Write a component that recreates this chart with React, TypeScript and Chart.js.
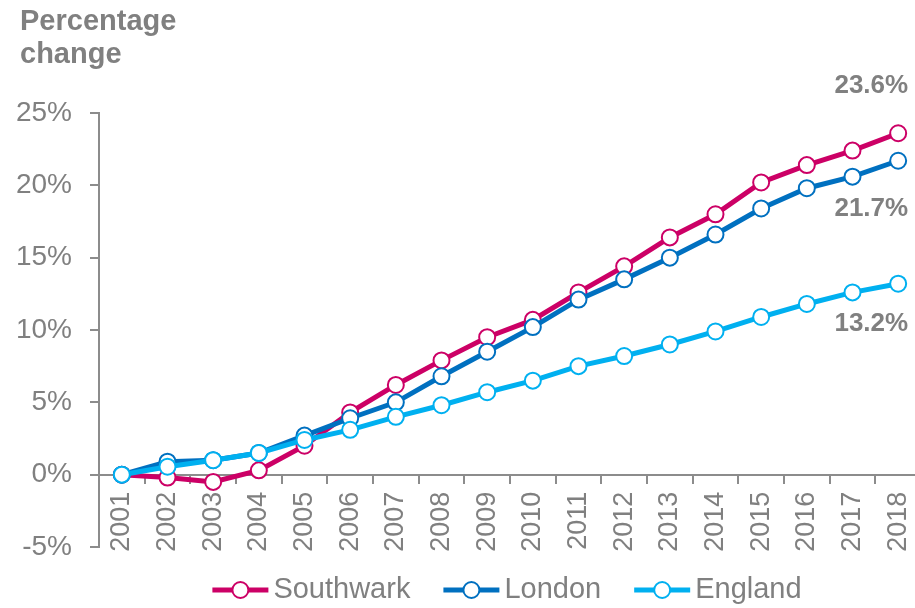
import React, { useEffect, useRef } from 'react';
import { Chart, registerables } from 'chart.js';

Chart.register(...registerables);

const years = ['2001', '2002', '2003', '2004', '2005', '2006', '2007', '2008', '2009', '2010', '2011', '2012', '2013', '2014', '2015', '2016', '2017', '2018'];
const southwark = [0, -0.2, -0.5, 0.3, 2.0, 4.3, 6.2, 7.9, 9.5, 10.7, 12.6, 14.4, 16.4, 18.0, 20.2, 21.4, 22.4, 23.6];
const london = [0, 0.9, 1.0, 1.5, 2.7, 3.9, 5.0, 6.8, 8.5, 10.2, 12.1, 13.5, 15.0, 16.6, 18.4, 19.8, 20.6, 21.7];
const england = [0, 0.55, 1.0, 1.5, 2.4, 3.1, 4.0, 4.8, 5.7, 6.5, 7.5, 8.2, 9.0, 9.9, 10.9, 11.8, 12.6, 13.2];
const seriesNames = ['Southwark', 'London', 'England'];
const seriesColors = ['#CC0066', '#0070C0', '#00B0F0'];
const titleLines = ['Percentage', 'change'];
const yMin = -5;
const yMax = 25;
const yStep = 5;

const FONT = '"Liberation Sans", Arial, Helvetica, sans-serif';
const GREY = '#808080';
const AXIS = '#8c8c8c';

const overlayPlugin = {
  id: 'overlay',
  afterDraw(chart: any) {
    const ctx = chart.ctx;
    const ca = chart.chartArea;
    ctx.save();
    // Title
    ctx.fillStyle = GREY;
    ctx.font = `bold 29px ${FONT}`;
    ctx.textAlign = 'left';
    ctx.textBaseline = 'alphabetic';
    titleLines.forEach((t, i) => ctx.fillText(t, 20, 30 + i * 33));

    // End labels
    const offsets = [-47, 48, 40];
    ctx.font = `bold 26px ${FONT}`;
    ctx.textAlign = 'right';
    ctx.textBaseline = 'middle';
    const all = [southwark, london, england];
    all.forEach((arr, i) => {
      const meta = chart.getDatasetMeta(i);
      const pt = meta.data[arr.length - 1];
      if (!pt) return;
      ctx.fillText(`${arr[arr.length - 1].toFixed(1)}%`, pt.x + 10, pt.y + offsets[i]);
    });

    // Legend
    ctx.font = `29px ${FONT}`;
    const widths = seriesNames.map((n) => ctx.measureText(n).width);
    const markerW = 56;
    const gapText = 5;
    const gapItem = 33;
    const total = widths.reduce((a, w) => a + markerW + gapText + w, 0) + gapItem * (seriesNames.length - 1);
    let x = (ca.left + ca.right) / 2 - 3 - total / 2;
    const y = chart.height - 18;
    seriesNames.forEach((name, i) => {
      ctx.strokeStyle = seriesColors[i];
      ctx.lineWidth = 5;
      ctx.lineCap = 'butt';
      ctx.beginPath();
      ctx.moveTo(x, y);
      ctx.lineTo(x + markerW, y);
      ctx.stroke();
      ctx.beginPath();
      ctx.arc(x + markerW / 2, y, 8, 0, Math.PI * 2);
      ctx.fillStyle = '#ffffff';
      ctx.fill();
      ctx.lineWidth = 2;
      ctx.stroke();
      ctx.fillStyle = GREY;
      ctx.textAlign = 'left';
      ctx.textBaseline = 'middle';
      ctx.fillText(name, x + markerW + gapText, y);
      x += markerW + gapText + widths[i] + gapItem;
    });
    ctx.restore();
  },
};

export default function App() {
  const ref = useRef<HTMLCanvasElement | null>(null);

  useEffect(() => {
    if (!ref.current) return;
    const mk = (i: number, data: number[], order: number) => ({
      label: seriesNames[i],
      data,
      borderColor: seriesColors[i],
      backgroundColor: seriesColors[i],
      borderWidth: 5,
      pointRadius: 8,
      pointBorderWidth: 2,
      pointBackgroundColor: '#ffffff',
      pointBorderColor: seriesColors[i],
      tension: 0,
      order,
      clip: false as any,
    });
    const chart = new Chart(ref.current, {
      type: 'line',
      data: {
        labels: years,
        datasets: [mk(0, southwark, 3), mk(1, london, 2), mk(2, england, 1)],
      },
      options: {
        responsive: false,
        maintainAspectRatio: false,
        animation: false,
        events: [],
        layout: { padding: { top: 113, bottom: 61, left: 0, right: 5 } },
        plugins: {
          legend: { display: false },
          tooltip: { enabled: false },
          title: { display: false },
        },
        scales: {
          x: {
            type: 'category',
            position: { y: 0 } as any,
            offset: true,
            afterFit: (s: any) => {
              s.paddingLeft = 0;
              s.paddingRight = 0;
            },
            grid: {
              offset: true,
              drawOnChartArea: false,
              drawTicks: true,
              tickLength: 8,
              color: AXIS,
              lineWidth: 2,
            },
            border: { display: true, color: AXIS, width: 2 },
            ticks: {
              color: GREY,
              font: { family: FONT, size: 27 },
              maxRotation: 90,
              minRotation: 90,
              autoSkip: false,
              padding: 9,
            },
          },
          y: {
            type: 'linear',
            position: 'left',
            min: yMin,
            max: yMax,
            afterFit: (s: any) => {
              s.width = 99;
            },
            grid: {
              drawOnChartArea: false,
              drawTicks: true,
              tickLength: 9,
              color: AXIS,
              lineWidth: 2,
            },
            border: { display: true, color: AXIS, width: 2 },
            ticks: {
              stepSize: yStep,
              color: GREY,
              font: { family: FONT, size: 28 },
              padding: 18,
              callback: (v: any) => `${v}%`,
            },
          },
        },
      },
      plugins: [overlayPlugin],
    });
    return () => chart.destroy();
  }, []);

  return (
    <div
      style={{
        position: 'fixed',
        left: 0,
        top: 0,
        width: 915,
        height: 608,
        overflow: 'hidden',
        background: '#ffffff',
      }}
    >
      <canvas ref={ref} width={931} height={608} style={{ display: 'block', width: 931, height: 608 }} />
    </div>
  );
}
